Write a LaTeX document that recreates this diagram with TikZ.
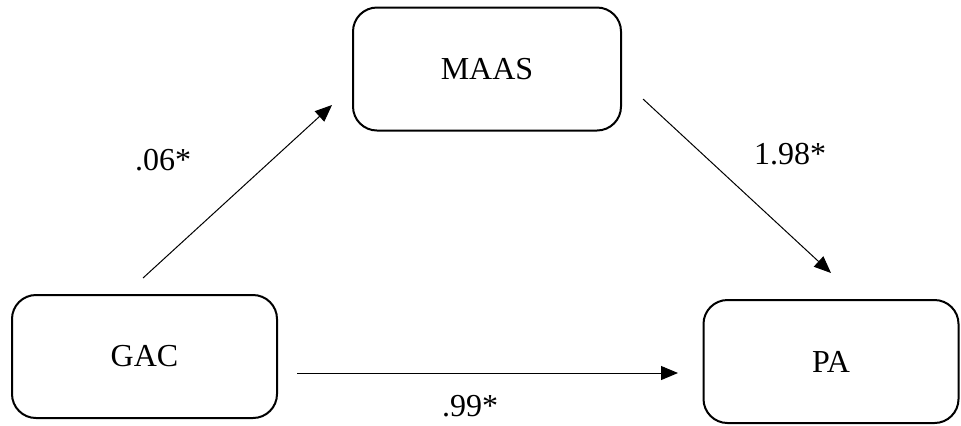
\documentclass[tikz,border=0pt]{standalone}
\usepackage{fontspec}
\setmainfont{Liberation Serif}
\usepackage{tikz}
\usetikzlibrary{arrows.meta,positioning}

\begin{document}
\begin{tikzpicture}[
    x=0.5pt, y=-0.5pt,
    font=\fontsize{16}{19}\selectfont,
    var/.style={rectangle, draw, line width=1pt, rounded corners=12pt, minimum height=61.5pt, align=center},
    arrow/.style={-{Triangle[length=8.5pt,width=7pt]}, line width=0.5pt},
    coef/.style={inner sep=0pt}
]
\useasboundingbox (0,0) rectangle (961,425);

% Variables
\node[var, minimum width=134pt] (maas) at (487,69) {MAAS};
\node[var, minimum width=132.5pt] (gac) at (144.5,356.5) {GAC};
\node[var, minimum width=127.5pt] (pa) at (831,361.5) {PA};

% Arrow ends
\coordinate (gac_out) at (143,278);
\coordinate (maas_in) at (332,105);
\coordinate (maas_out) at (643,99);
\coordinate (pa_in) at (831,273);
\coordinate (gac_right) at (297,373);
\coordinate (pa_left) at (678,373);

% Paths
\draw[arrow] (gac_out) -- (maas_in);
\draw[arrow] (maas_out) -- (pa_in);
\draw[arrow] (gac_right) -- (pa_left);

% Coefficients
\node[coef] (a_path) at (163,160) {.06*};
\node[coef] (b_path) at (790,154) {1.98*};
\node[coef] (c_path) at (470,406) {.99*};

\end{tikzpicture}
\end{document}
